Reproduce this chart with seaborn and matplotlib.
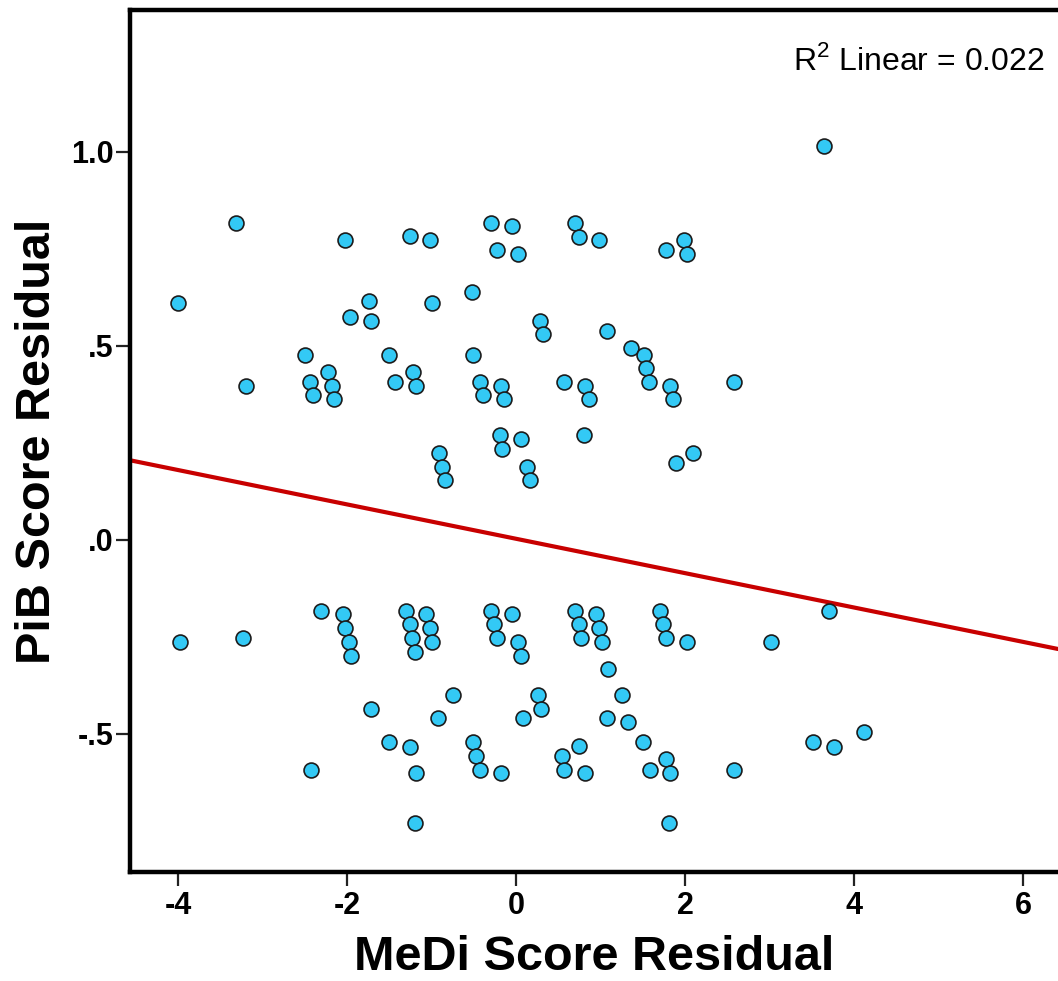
"""Scatter of PiB vs MeDi score residuals with linear fit line (SPSS-style)."""
import numpy as np
import pandas as pd
import matplotlib
matplotlib.use("Agg")
import matplotlib.pyplot as plt
from matplotlib.ticker import FixedLocator, FuncFormatter
import seaborn as sns

# --- data ------------------------------------------------------------------
# upper band (positive PiB residuals)
medi_upper = [
    -3.31, -2.02, -1.26, -1.02, -4.00, -1.74, -1.00, -1.96, -1.72, -2.50,
    -1.50, -2.22, -1.22, -3.20, -2.44, -2.18, -1.43, -1.18, -2.40, -2.15,
    -0.91, -0.87, -0.84,
    -0.30, -0.05, 0.70, 0.74, 0.98, -0.23, 0.02, 1.78, 1.99, 2.02,
    -0.52, 0.28, 0.32, 1.08, 1.36, 1.51, 1.54, 1.57, -0.51, -0.43,
    -0.39, -0.18, -0.14, 0.57, 0.82, 0.86, 1.82, 1.86, 2.58, -0.19,
    -0.16, 0.06, 0.81, 0.13, 0.17, 2.09, 1.89,
    3.65,
]
pib_upper = [
    0.818, 0.773, 0.784, 0.773, 0.610, 0.616, 0.610, 0.574, 0.564, 0.477,
    0.477, 0.434, 0.434, 0.398, 0.408, 0.398, 0.408, 0.398, 0.373, 0.363,
    0.225, 0.189, 0.155,
    0.816, 0.808, 0.818, 0.782, 0.773, 0.747, 0.737, 0.747, 0.773, 0.737,
    0.640, 0.564, 0.530, 0.539, 0.494, 0.477, 0.442, 0.407, 0.477, 0.407,
    0.373, 0.398, 0.363, 0.407, 0.398, 0.363, 0.398, 0.363, 0.407, 0.271,
    0.234, 0.259, 0.271, 0.189, 0.155, 0.225, 0.199,
    1.015,
]

# lower band (negative PiB residuals)
medi_lower = [
    -3.98, -3.23, -2.31, -2.05, -2.02, -1.98, -1.95, -1.30, -1.26, -1.23,
    -1.20, -1.06, -1.02, -0.99, -0.75, -1.72, -0.92, -1.50, -1.25, -2.43,
    -1.18, -1.20,
    -0.30, -0.26, -0.23, -0.05, 0.02, 0.06, 0.70, 0.74, 0.77, 0.95,
    0.98, 1.02, 1.09, 1.70, 1.74, 1.78, 2.02, 3.02, 0.26, 0.29,
    0.08, 1.26, 1.08, 1.33, -0.51, -0.47, -0.43, -0.18, 0.75, 0.54,
    0.57, 0.82, 1.50, 1.78, 1.58, 1.82, 2.58, 1.81,
    3.70, 3.51, 3.76, 4.12,
]
pib_lower = [
    -0.262, -0.253, -0.183, -0.192, -0.228, -0.262, -0.298, -0.183, -0.217, -0.253,
    -0.288, -0.192, -0.228, -0.262, -0.399, -0.436, -0.460, -0.522, -0.533, -0.593,
    -0.601, -0.730,
    -0.183, -0.217, -0.253, -0.192, -0.262, -0.298, -0.183, -0.217, -0.253, -0.192,
    -0.228, -0.262, -0.332, -0.183, -0.217, -0.253, -0.262, -0.262, -0.399, -0.436,
    -0.460, -0.399, -0.460, -0.470, -0.522, -0.557, -0.593, -0.601, -0.531, -0.557,
    -0.593, -0.601, -0.522, -0.565, -0.593, -0.601, -0.593, -0.730,
    -0.183, -0.522, -0.533, -0.494,
]

# linear fit shown on the chart
fit_intercept = 0.003
fit_slope = -0.0443
r2_label = "R$^{2}$ Linear = 0.022"

x_ticks = [-4, -2, 0, 2, 4, 6]
y_ticks = [-0.5, 0.0, 0.5, 1.0]
y_tick_labels = ["-.5", ".0", ".5", "1.0"]

df = pd.DataFrame({
    "medi": medi_upper + medi_lower,
    "pib": pib_upper + pib_lower,
})

# --- styling ---------------------------------------------------------------
sns.set_style("ticks")
plt.rcParams["font.family"] = ["Liberation Sans", "DejaVu Sans"]
plt.rcParams["mathtext.fontset"] = "custom"
plt.rcParams["mathtext.rm"] = "Liberation Sans"
plt.rcParams["text.color"] = "black"
plt.rcParams["axes.labelcolor"] = "black"
plt.rcParams["xtick.color"] = "black"
plt.rcParams["ytick.color"] = "black"

W, H = 1058, 981
fig = plt.figure(figsize=(W / 100, H / 100), dpi=100)
ax = fig.add_axes([130 / W, (H - 872) / H, (W - 130) / W, (872 - 10) / H])

xlim = (-4.568, 6.414)
ylim = (-0.856, 1.366)

sns.scatterplot(data=df, x="medi", y="pib", ax=ax, s=115,
                color="#33C9F5", edgecolor="#1c1c1c", linewidth=1.2,
                zorder=3, legend=False)

line_x = np.array(xlim)
sns.lineplot(x=line_x, y=fit_intercept + fit_slope * line_x, ax=ax,
             color="#C80000", linewidth=3.0, zorder=2)

ax.set_xlim(*xlim)
ax.set_ylim(*ylim)

ax.xaxis.set_major_locator(FixedLocator(x_ticks))
ax.yaxis.set_major_locator(FixedLocator(y_ticks))
ax.yaxis.set_major_formatter(FuncFormatter(
    lambda v, pos: y_tick_labels[y_ticks.index(round(v, 2))] if round(v, 2) in y_ticks else ""))
ax.xaxis.set_major_formatter(FuncFormatter(lambda v, pos: f"{int(v)}"))

for side in ["left", "bottom", "top"]:
    ax.spines[side].set_linewidth(3.2)
    ax.spines[side].set_color("black")
ax.spines["right"].set_visible(False)

ax.tick_params(axis="both", direction="out", length=10, width=1.6,
               color="#222222", labelcolor="black", labelsize=22)
ax.tick_params(axis="x", pad=4)
ax.tick_params(axis="y", pad=2)
for lbl in ax.get_xticklabels() + ax.get_yticklabels():
    lbl.set_fontweight("bold")

ax.set_xlabel("MeDi Score Residual", fontsize=35, fontweight="bold",
              color="black", labelpad=10)
ax.set_ylabel("PiB Score Residual", fontsize=35, fontweight="bold",
              color="black", labelpad=8)

fig.text(1045 / W, (H - 70) / H, r2_label, ha="right", va="baseline",
         fontsize=23, color="black")

fig.savefig("out.png", dpi=100)
